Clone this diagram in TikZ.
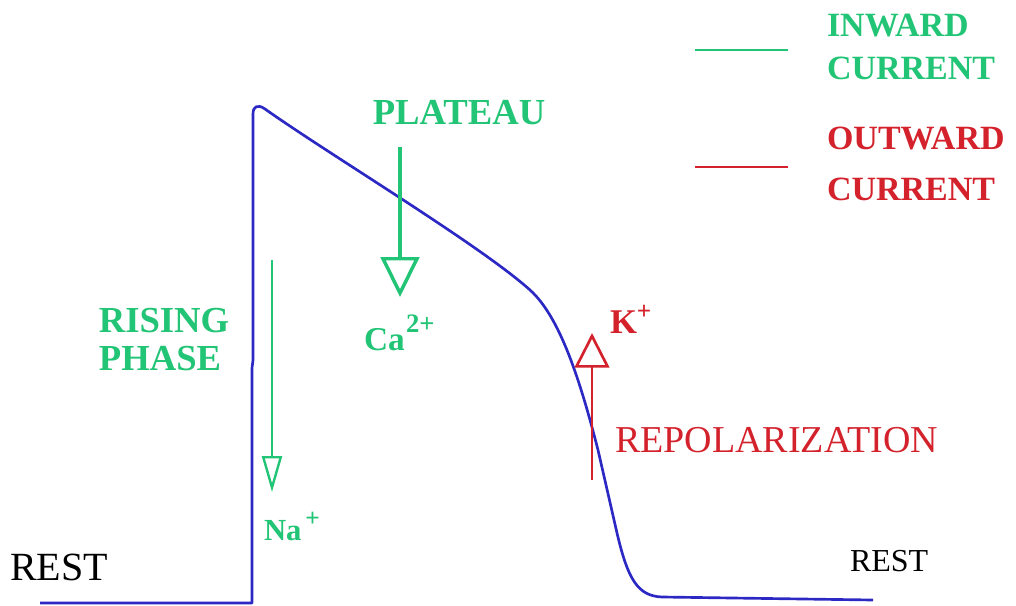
\documentclass[tikz,border=0pt]{standalone}
\usepackage{fontspec}
\setmainfont{Liberation Serif}
\usetikzlibrary{arrows.meta}
\definecolor{ingreen}{RGB}{34,196,118}
\definecolor{outred}{RGB}{212,34,44}
\definecolor{apblue}{RGB}{44,40,196}
\begin{document}
\begin{tikzpicture}[x=0.75pt,y=-0.75pt,
  lbl/.style={inner sep=0pt,outer sep=0pt},
  greenlbl/.style={lbl,text=ingreen,font=\bfseries\fontsize{27.5}{29}\selectfont},
  redlbl/.style={lbl,text=outred,font=\bfseries\fontsize{26}{28}\selectfont},
  legendtxt/.style={font=\bfseries\fontsize{25.5}{27}\selectfont},
  restlbl/.style={lbl,text=black},
  inarrow/.style={draw=ingreen,-{Triangle[open,length=27pt,width=15pt,line width=1.8pt]}},
  outarrow/.style={draw=outred,-{Triangle[open,length=26pt,width=26pt,line width=2pt]}},
  legendline/.style={line width=2.2pt}]
\useasboundingbox (0,0) rectangle (1016,606);
% action potential
\draw[apblue,line width=2pt,line join=round]
  (40,603) -- (252,603) -- (252,368) -- (253,360) -- (253,114)
  .. controls (253,106) and (258,104) .. (265,109)
  .. controls (330,155) and (480,245) .. (530,290)
  .. controls (560,317) and (580,380) .. (598,450)
  -- (617,533)
  .. controls (628,580) and (638,596) .. (662,597)
  -- (873,600);
% Na+ arrow
\coordinate (na1) at (272,260);
\coordinate (na2) at (272,492);
\draw[inarrow,line width=1.8pt] (na1) -- (na2);
% Ca2+ arrow
\coordinate (ca1) at (400,147);
\coordinate (ca2) at (400,297);
\draw[draw=ingreen,line width=3pt,-{Triangle[open,length=30pt,width=29pt,line width=2.6pt]}] (ca1) -- (ca2);
% K+ arrow
\coordinate (k1) at (592,480);
\coordinate (k2) at (592,333);
\draw[outarrow,line width=1.8pt] (k1) -- (k2);
% labels
\node[greenlbl,anchor=base] (plateau) at (459,125) {PLATEAU};
\node[greenlbl,anchor=base] (rising) at (164,332) {RISING};
\node[greenlbl,anchor=base] (phase) at (160,370) {PHASE};
\node[greenlbl,anchor=base west,font=\bfseries\fontsize{23}{25}\selectfont] (na) at (264,540) {Na\kern3pt\raisebox{10pt}{\fontsize{19}{19}\selectfont+}};
\node[greenlbl,anchor=base west,font=\bfseries\fontsize{25}{27}\selectfont] (ca) at (364,350) {Ca\kern1pt\raisebox{13pt}{\fontsize{20}{20}\selectfont 2+}};
\node[redlbl,anchor=base west] (k) at (610,333) {K\raisebox{10pt}{\fontsize{19}{19}\selectfont+}};
\node[lbl,text=outred,anchor=base west,font=\fontsize{28.5}{30}\selectfont] (repol) at (615,452) {REPOLARIZATION};
\node[restlbl,anchor=base west,font=\fontsize{30}{32}\selectfont] (rest1) at (10,580) {REST};
\node[restlbl,anchor=base west,font=\fontsize{24}{26}\selectfont] (rest2) at (850,571) {REST};
% legend
\coordinate (lg1) at (695,50);
\coordinate (lg2) at (788,50);
\coordinate (lr1) at (695,167);
\coordinate (lr2) at (788,167);
\draw[legendline,ingreen] (lg1) -- (lg2);
\draw[legendline,outred] (lr1) -- (lr2);
\node[greenlbl,legendtxt,anchor=base west] (inw) at (827,37) {INWARD};
\node[greenlbl,legendtxt,anchor=base west] (inc) at (827,80) {CURRENT};
\node[redlbl,legendtxt,anchor=base west] (outw) at (827,150) {OUTWARD};
\node[redlbl,legendtxt,anchor=base west] (outc) at (827,200) {CURRENT};
\end{tikzpicture}
\end{document}
